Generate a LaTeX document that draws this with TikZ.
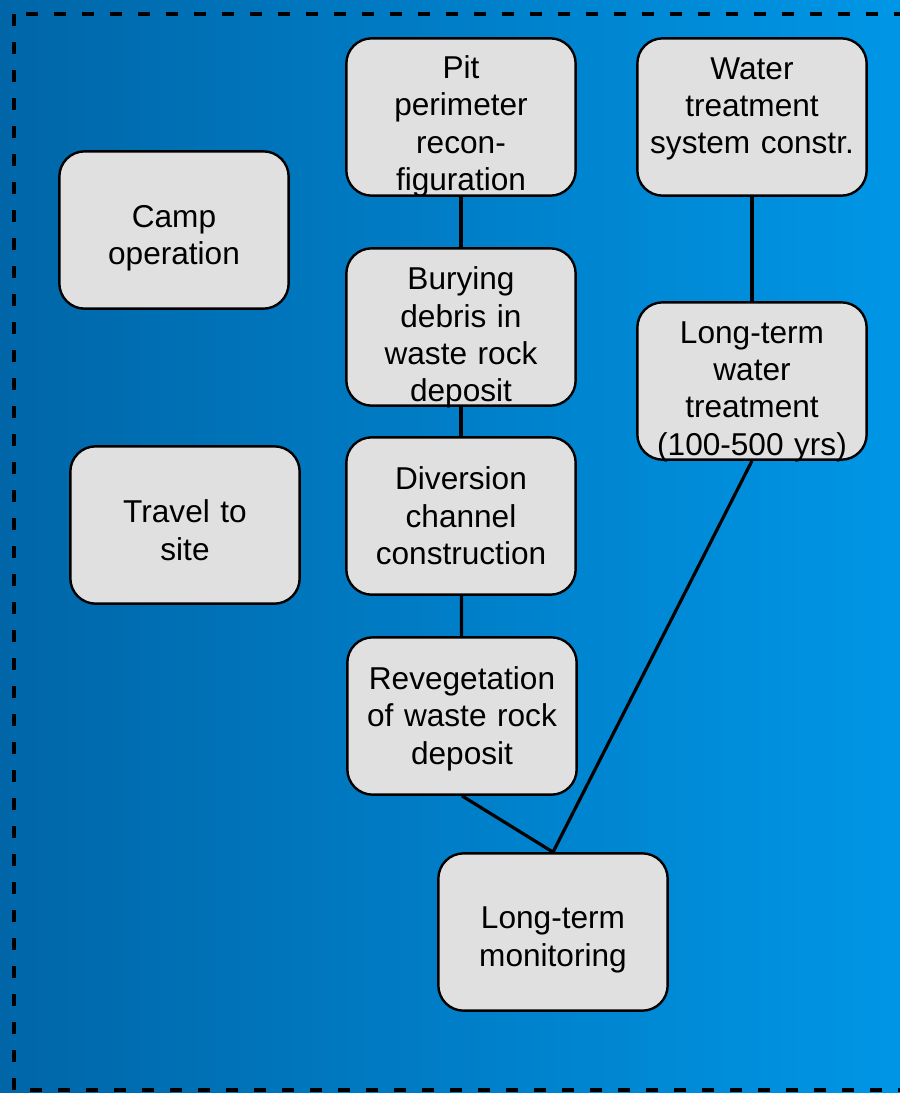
\documentclass[tikz,border=0pt]{standalone}
\usepackage{fontspec}
\setmainfont{Liberation Sans}
\usetikzlibrary{positioning,calc}
\definecolor{bgdark}{RGB}{0,102,168}
\definecolor{bglight}{RGB}{0,150,230}
\definecolor{boxfill}{RGB}{224,224,224}
\tikzset{
        block/.style={draw, line width=1.8pt, fill=boxfill, rounded corners=19pt, text width=160pt, minimum width=172pt, minimum height=118pt, inner sep=1pt, align=center, font=\fontsize{23.7}{28}\selectfont},
        line/.style={line width=2.4pt}
    }
% text moved up or down inside its box, box size unchanged
\newcommand{\boxtext}[2]{\raisebox{#1}[\height][\depth]{\parbox{160pt}{\centering #2}}}
\begin{document}
\begin{tikzpicture}[x=0.75pt, y=-0.75pt]
    % background and dashed frame
    \useasboundingbox (0,0) rectangle (900,1093);
    \shade[left color=bgdark, right color=bglight] (0,0) rectangle (900,1093);
    \begin{scope}
    \clip (0,0) rectangle (900,1093);
    \draw[line width=2.6pt, dash pattern=on 9pt off 12pt] (14,14) rectangle (910,1090);
    \end{scope}

    % left column
    \node[block] (camp) at (174, 230) {\boxtext{-6pt}{Camp\\operation}};
    \node[block] (travel) at (185, 525) {\boxtext{-4pt}{Travel to\\site}};

    % middle column
    \node[block] (pit) at (461, 117) {\boxtext{-7pt}{Pit\\perimeter\\recon-\\figuration}};
    \node[block] (bury) at (461, 327) {\boxtext{-8pt}{Burying\\debris in\\waste rock\\deposit}};
    \node[block] (div) at (461, 516) {Diversion\\channel\\construction};
    \node[block] (reveg) at (462, 716) {\boxtext{-2pt}{Revegetation\\of waste rock\\deposit}};
    \node[block] (mon) at (553, 932) {\boxtext{-6pt}{Long-term\\monitoring}};

    % right column
    \node[block] (wtc) at (752, 117) {\boxtext{6pt}{Water\\treatment\\system constr.}};
    \node[block] (ltw) at (752, 381) {\boxtext{-8pt}{Long-term\\water\\treatment\\(100-500 yrs)}};

    % connections
    \draw[line] (pit) -- (bury);
    \draw[line] (bury) -- (div);
    \draw[line] (div) -- (reveg);
    \draw[line] (reveg.south) -- (mon.north);
    \draw[line] (wtc) -- (ltw);
    \draw[line] (ltw.south) -- (mon.north);
\end{tikzpicture}
\end{document}
